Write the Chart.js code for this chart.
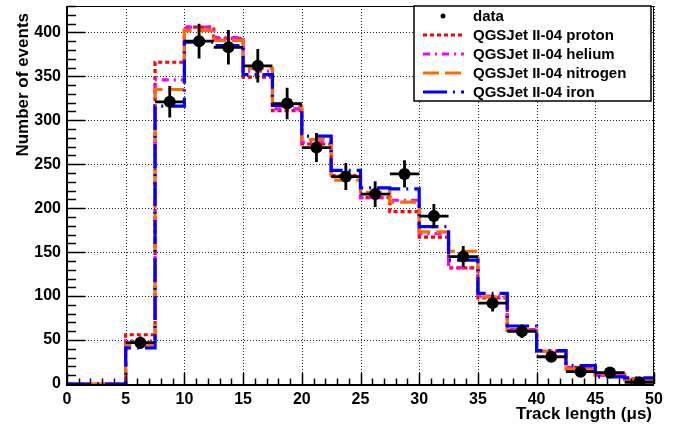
<!DOCTYPE html>
<html lang="en">
<head>
<meta charset="UTF-8" />
<title>Track length</title>
<script src="https://cdn.jsdelivr.net/npm/chart.js"></script>
<style>
  html, body { margin: 0; padding: 0; background: #fff; }
</style>
</head>
<body>
<canvas id="trackChart" width="679" height="428"></canvas>
<script>
// bin edges (µs)
const binEdges = [0, 2.5, 5, 7.5, 10, 12.5, 15, 17.5, 20, 22.5, 25, 27.5, 30, 32.5, 35, 37.5, 40, 42.5, 45, 47.5, 50];

// simulated counts, one value per bin
const proton   = [0, 0, 56, 366, 406, 393, 349, 311, 273, 237, 212, 196, 167, 132, 98, 61, 37, 19, 10, 6];
const helium   = [0, 0, 49, 346, 406, 394, 356, 313, 275, 236, 212, 209, 171, 132, 100, 62, 37, 18, 10, 6];
const nitrogen = [0, 0, 45, 335, 402, 391, 359, 316, 278, 232, 218, 207, 173, 151, 99, 61, 37, 17, 11, 5];
const iron     = [0, 0, 41, 316, 389, 385, 352, 317, 282, 243, 223, 222, 179, 141, 103, 66, 38, 21, 8, 7];

// measured counts at bin centres with their errors
const dataX   = [6.25, 8.75, 11.25, 13.75, 16.25, 18.75, 21.25, 23.75, 26.25, 28.75, 31.25, 33.75, 36.25, 38.75, 41.25, 43.75, 46.25, 48.75];
const dataY   = [47, 321, 390, 383, 362, 319, 269, 236, 216, 239, 191, 145, 92, 60, 31, 14, 13, 2];
const dataErr = [6.9, 17.9, 19.7, 19.6, 19.0, 17.9, 16.4, 15.4, 14.7, 15.5, 13.8, 12.0, 9.6, 7.7, 5.6, 3.7, 3.6, 1.4];
const halfBin = 1.25;

// axis ticks
const xTicks = [0, 5, 10, 15, 20, 25, 30, 35, 40, 45, 50];
const yTicks = [0, 50, 100, 150, 200, 250, 300, 350, 400];
const xMinor = 1;
const yMinor = 10;

const seriesNames = ['QGSJet II-04 proton', 'QGSJet II-04 helium', 'QGSJet II-04 nitrogen', 'QGSJet II-04 iron'];
const seriesValues = [proton, helium, nitrogen, iron];
const seriesStyle = [
  { color: '#ff0000', dash: [4, 3] },
  { color: '#ff00ff', dash: [7, 5, 2, 5] },
  { color: '#ff6a00', dash: [16, 6] },
  { color: '#0000ff', dash: [24, 6, 2, 6] }
];

const FONT = '"Liberation Sans", Arial, Helvetica, sans-serif';

// step outline: each bin value held across [edge_i, edge_i+1]
function toSteps(values) {
  return binEdges.map((e, i) => ({ x: e, y: values[Math.min(i, values.length - 1)] }));
}

// later series are painted over earlier ones
const datasets = seriesValues.map((vals, i) => ({
  type: 'line',
  label: seriesNames[i],
  data: toSteps(vals),
  order: seriesValues.length - i,
  stepped: true,
  borderColor: seriesStyle[i].color,
  borderWidth: 3.2,
  borderDash: seriesStyle[i].dash,
  pointRadius: 0,
  fill: false
}));

datasets.push({
  type: 'scatter',
  label: 'data',
  order: 0,
  data: dataX.map((x, i) => ({ x: x, y: dataY[i] })),
  pointRadius: 6,
  pointBackgroundColor: '#000',
  pointBorderColor: '#000',
  borderWidth: 0
});

// dotted grid, frame and inward tick marks
const framePlugin = {
  id: 'frame',
  beforeDatasetsDraw(chart) {
    const { ctx, chartArea: a, scales: { x, y } } = chart;
    ctx.save();
    ctx.strokeStyle = '#222';
    ctx.lineWidth = 1;
    ctx.setLineDash([1, 2]);
    xTicks.forEach(v => {
      const px = Math.round(x.getPixelForValue(v)) + 0.5;
      ctx.beginPath(); ctx.moveTo(px, a.top); ctx.lineTo(px, a.bottom); ctx.stroke();
    });
    yTicks.forEach(v => {
      const py = Math.round(y.getPixelForValue(v)) + 0.5;
      ctx.beginPath(); ctx.moveTo(a.left, py); ctx.lineTo(a.right, py); ctx.stroke();
    });
    ctx.restore();
  },
  afterDatasetsDraw(chart) {
    const { ctx, chartArea: a, scales: { x, y } } = chart;
    ctx.save();
    ctx.strokeStyle = '#000';
    ctx.lineWidth = 1;
    ctx.strokeRect(a.left + 0.5, a.top + 0.5, a.right - a.left - 1, a.bottom - a.top);
    ctx.lineWidth = 2;
    ctx.beginPath();
    ctx.moveTo(a.left, a.top); ctx.lineTo(a.left, a.bottom + 1); ctx.lineTo(a.right, a.bottom + 1);
    ctx.stroke();
    ctx.lineWidth = 1.5;
    for (let v = xTicks[0]; v <= xTicks[xTicks.length - 1] + 1e-9; v += xMinor) {
      const px = Math.round(x.getPixelForValue(v)) + 0.5;
      const len = xTicks.includes(v) ? 11 : 5.5;
      ctx.beginPath(); ctx.moveTo(px, a.bottom); ctx.lineTo(px, a.bottom - len); ctx.stroke();
    }
    for (let v = 0; v <= y.max; v += yMinor) {
      const py = Math.round(y.getPixelForValue(v)) + 0.5;
      const len = yTicks.includes(v) ? 18 : 9;
      ctx.beginPath(); ctx.moveTo(a.left, py); ctx.lineTo(a.left + len, py); ctx.stroke();
    }
    ctx.restore();
  }
};

// error bars under the data markers
const errorPlugin = {
  id: 'errorBars',
  beforeDatasetDraw(chart, args) {
    if (args.index !== datasets.length - 1) return;
    const { ctx, scales: { x, y } } = chart;
    ctx.save();
    ctx.strokeStyle = '#000';
    ctx.lineWidth = 2.8;
    dataX.forEach((xv, i) => {
      const px = x.getPixelForValue(xv), py = y.getPixelForValue(dataY[i]);
      ctx.beginPath();
      ctx.moveTo(x.getPixelForValue(xv - halfBin), py);
      ctx.lineTo(x.getPixelForValue(xv + halfBin), py);
      ctx.moveTo(px, y.getPixelForValue(dataY[i] - dataErr[i]));
      ctx.lineTo(px, y.getPixelForValue(dataY[i] + dataErr[i]));
      ctx.stroke();
    });
    ctx.restore();
  }
};

// axis titles and boxed legend
const labelPlugin = {
  id: 'labels',
  afterDraw(chart) {
    const { ctx, chartArea: a } = chart;
    ctx.save();
    ctx.fillStyle = '#000';
    ctx.font = 'bold 17px ' + FONT;
    ctx.textAlign = 'right';
    ctx.textBaseline = 'alphabetic';
    ctx.fillText('Track length (\u03bcs)', a.right - 2, 419);
    ctx.translate(28, a.top + 7);
    ctx.rotate(-Math.PI / 2);
    ctx.fillText('Number of events', 0, 0);
    ctx.restore();

    const bx = 414, by = 6, bw = 237, bh = 95, rowH = 19;
    ctx.save();
    ctx.fillStyle = '#fff';
    ctx.fillRect(bx, by, bw, bh);
    ctx.strokeStyle = '#000';
    ctx.lineWidth = 1.5;
    ctx.strokeRect(bx, by, bw, bh);
    ctx.font = 'bold 15px ' + FONT;
    ctx.textBaseline = 'middle';
    ctx.textAlign = 'left';
    const rows = ['data'].concat(seriesNames);
    rows.forEach((name, i) => {
      const cy = by + 10 + i * rowH;
      if (i === 0) {
        ctx.fillStyle = '#000';
        ctx.beginPath(); ctx.arc(443, cy, 2.5, 0, Math.PI * 2); ctx.fill();
      } else {
        const st = seriesStyle[i - 1];
        ctx.strokeStyle = st.color;
        ctx.lineWidth = 3;
        ctx.setLineDash(st.dash);
        ctx.beginPath(); ctx.moveTo(423, cy); ctx.lineTo(464, cy); ctx.stroke();
        ctx.setLineDash([]);
      }
      ctx.fillStyle = '#000';
      ctx.fillText(name, 473, cy + 1);
    });
    ctx.restore();
  }
};

new Chart(document.getElementById('trackChart'), {
  data: { datasets: datasets },
  options: {
    responsive: false,
    animation: false,
    events: [],
    layout: { padding: { top: 3, right: 25, left: 0, bottom: 0 } },
    plugins: { legend: { display: false }, tooltip: { enabled: false } },
    scales: {
      x: {
        type: 'linear', min: 0, max: 50,
        afterFit: s => { s.height = 44; s.paddingLeft = 0; s.paddingRight = 0; },
        afterBuildTicks: s => { s.ticks = xTicks.map(v => ({ value: v })); },
        grid: { display: false, drawTicks: false },
        border: { display: false },
        ticks: { padding: 6, color: '#000', font: { family: FONT, size: 16, weight: 'bold' }, maxRotation: 0, autoSkip: false }
      },
      y: {
        type: 'linear', min: 0, max: 430,
        afterFit: s => { s.width = 67; s.paddingTop = 0; s.paddingBottom = 0; },
        afterBuildTicks: s => { s.ticks = yTicks.map(v => ({ value: v })); },
        grid: { display: false, drawTicks: false },
        border: { display: false },
        ticks: { padding: 6, color: '#000', font: { family: FONT, size: 16, weight: 'bold' }, autoSkip: false }
      }
    }
  },
  plugins: [framePlugin, errorPlugin, labelPlugin]
});
</script>
</body>
</html>
